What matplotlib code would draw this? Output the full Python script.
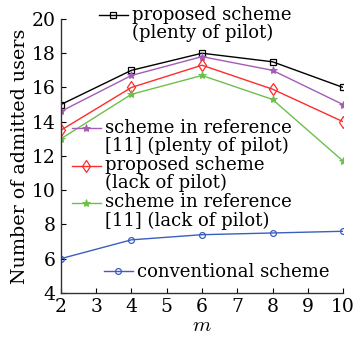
import matplotlib
matplotlib.use("Agg")
import numpy as np
import matplotlib.pyplot as plt
from matplotlib.legend_handler import HandlerLine2D

plt.rcParams['font.family'] = ['DejaVu Serif']
plt.rcParams['mathtext.fontset'] = 'cm'

m = [2, 4, 6, 8, 10]
proposed_plenty = [15.0, 17.0, 18.0, 17.5, 16.0]
ref_plenty = [14.6, 16.7, 17.8, 17.0, 15.0]
proposed_lack = [13.5, 16.0, 17.3, 15.9, 14.0]
ref_lack = [13.0, 15.6, 16.7, 15.3, 11.7]
conventional = [6.0, 7.1, 7.4, 7.5, 7.6]

labels = ["proposed scheme\n(plenty of pilot)",
          "scheme in reference\n[11] (plenty of pilot)",
          "proposed scheme\n(lack of pilot)",
          "scheme in reference\n[11] (lack of pilot)",
          "conventional scheme"]

fig = plt.figure(figsize=(3.6, 3.45), dpi=100)
ax = fig.add_axes([0.169, 0.151, 0.784, 0.794])

lw = 1.0
h1, = ax.plot(m, proposed_plenty, color='black', lw=lw, marker='s', ms=4.2,
              mfc='none', mew=0.9)
h2, = ax.plot(m, ref_plenty, color='#a45bb5', lw=lw, marker='*', ms=6,
              mfc='#a45bb5', mew=0.6)
h3, = ax.plot(m, proposed_lack, color='#ff2b2b', lw=lw, marker='d', ms=6,
              mfc='none', mew=0.9)
h4, = ax.plot(m, ref_lack, color='#6cc04a', lw=lw, marker='*', ms=6,
              mfc='#6cc04a', mew=0.6)
h5, = ax.plot(m, conventional, color='#3a5fbf', lw=lw, marker='o', ms=4.2,
              mfc='none', mew=0.9)

ax.set_xlim(2, 10)
ax.set_ylim(4, 20)
ax.set_xticks(range(2, 11))
ax.set_yticks(range(4, 21, 2))
ax.tick_params(direction='in', length=3.5, width=0.8, labelsize=13.5, pad=4)
ax.spines['top'].set_visible(False)
ax.spines['right'].set_visible(False)
for s in ('left', 'bottom'):
    ax.spines[s].set_linewidth(1.0)
    ax.spines[s].set_color('#333333')

ax.set_xlabel(r'$m$', fontsize=15, labelpad=0)
ax.set_ylabel('Number of admitted users', fontsize=13.7, labelpad=2)

common = dict(frameon=False, fontsize=13, handlelength=1.6, handletextpad=0.25,
              labelspacing=0.05, borderpad=0, borderaxespad=0)


class RaisedLine(HandlerLine2D):
    """Key line lifted so it sits beside the first line of a two-line label."""

    def __init__(self, dy, **kw):
        super().__init__(**kw)
        self.dy = dy

    def create_artists(self, legend, orig_handle, xdescent, ydescent,
                       width, height, fontsize, trans):
        arts = super().create_artists(legend, orig_handle, xdescent, ydescent,
                                      width, height, fontsize, trans)
        for a in arts:
            a.set_ydata(np.asarray(a.get_ydata(), dtype=float) + self.dy)
        return arts


raised = RaisedLine(6.8)


def tighten(leg):
    for t in leg.get_texts():
        t.set_linespacing(1.0)
    return leg


leg1 = tighten(ax.legend([h1], [labels[0]], loc='upper left',
                         bbox_to_anchor=(99 / 360, 1 - 6 / 345),
                         bbox_transform=fig.transFigure,
                         handler_map={h1: raised}, **common))
ax.add_artist(leg1)
leg2 = tighten(ax.legend([h2, h3, h4], labels[1:4], loc='upper left',
                         bbox_to_anchor=(72 / 360, 1 - 119 / 345),
                         bbox_transform=fig.transFigure,
                         handler_map={h2: raised, h3: raised, h4: raised},
                         **common))
ax.add_artist(leg2)
leg3 = tighten(ax.legend([h5], [labels[4]], loc='upper left',
                         bbox_to_anchor=(104 / 360, 1 - 263 / 345),
                         bbox_transform=fig.transFigure, **common))

fig.savefig('out.png', dpi=100)
